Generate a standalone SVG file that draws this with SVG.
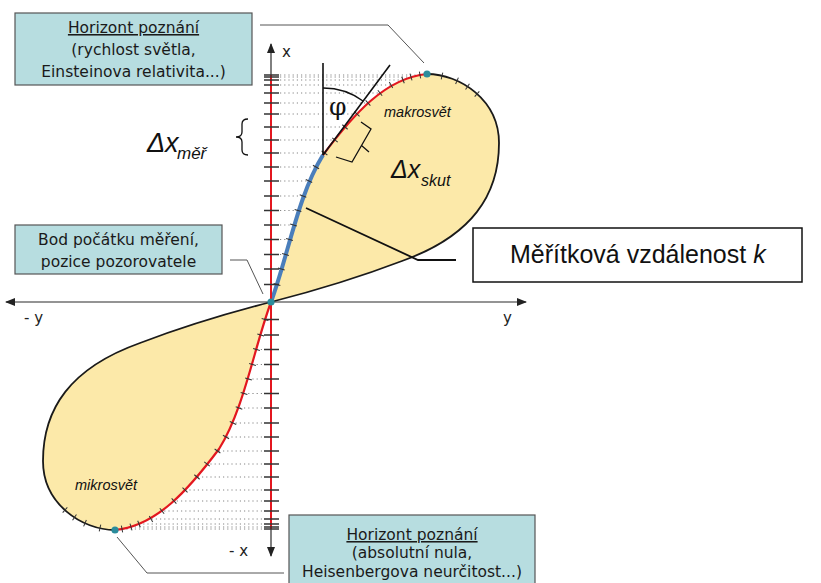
<svg xmlns="http://www.w3.org/2000/svg" xmlns:xlink="http://www.w3.org/1999/xlink" width="821" height="583" viewBox="0 0 821 583">
<style>
.box{fill:#b7dde0;stroke:#555;stroke-width:1.2}
.bt{font-family:"DejaVu Sans",sans-serif;font-size:15.5px;fill:#1a1a1a;text-anchor:middle}
.lead{fill:none;stroke:#555;stroke-width:1}
.dots{fill:none;stroke:#858585;stroke-width:1;stroke-dasharray:1.2 3}
.ax{fill:none;stroke:#2a2a2a;stroke-width:1.2}
.ln{fill:none;stroke:#111;stroke-width:1.6}
.lab{font-family:"DejaVu Sans",sans-serif;font-size:15px;fill:#222}
.it{font-family:"Liberation Sans",sans-serif;font-style:italic;fill:#111}
.tk{fill:none;stroke:none;marker-mid:url(#ctick)}
.dotc{fill:#2b8c9c}
</style>
<defs>
<marker id="arr" viewBox="0 0 10 8" refX="9" refY="4" markerWidth="10" markerHeight="8" markerUnits="userSpaceOnUse" orient="auto-start-reverse"><path d="M0,0 L10,4 L0,8 Z" fill="#222"/></marker>
<marker id="ctick" viewBox="-4 -4 8 8" refX="0" refY="0" markerWidth="8" markerHeight="8" markerUnits="userSpaceOnUse" orient="auto" overflow="visible"><path d="M0,-3.5 L0,3.5" stroke="#333" stroke-width="1"/></marker>
<g id="lobeBase">
<path d="M271,302 C288,256 298,195 323,155 C353,115 385,78 427,74 C460,74 499,100 499,143 C499,195 472,236 402,261 C360,277 310,292 271,302 Z" fill="#fce9a9"/>
<path class="dots" d="M280,254.5 H285.5 M280,239.5 H289.5 M280,225 H293.5 M280,210.5 H298 M280,196 H303 M280,181 H309 M280,167 H316 M280,153 H324.5 M280,140 H335 M280,127 H345 M280,114 H357 M280,103 H368 M280,93 H380 M280,85 H391 M280,80 H403 M280,77 H411 M280,75 H420"/>
<path d="M427,74 C460,74 499,100 499,143 C499,195 472,236 402,261 C360,277 310,292 271,302" fill="none" stroke="#1a1a1a" stroke-width="1.8"/>
<path d="M271,302 C288,256 298,195 323,155 C353,115 385,78 427,74" fill="none" stroke="#e3171f" stroke-width="2.2"/>
</g>
<g id="lobeTicks">
<polyline class="tk" points="271,302 277,284.5 281.3,269 285.5,254.5 289.5,239.5 293.5,225 298,210.5 303,196 309,181 316,167 324.5,153 335,140 345,127 357,114 368,103 380,93 391,85 403,80 411,77 420,75 427,74"/>
<polyline class="tk" points="427,74 442,76 457,80.8 467.5,86.6 477,94 483,100"/>
</g>
</defs>

<g id="lobe-upper">
<use xlink:href="#lobeBase" href="#lobeBase"/>
<path d="M271,302 C288,256 298,195 323,155" fill="none" stroke="#4a7ebb" stroke-width="4"/>
<use xlink:href="#lobeTicks" href="#lobeTicks"/>
</g>
<g id="lobe-lower" transform="rotate(180 271 302)">
<use xlink:href="#lobeBase" href="#lobeBase"/>
<use xlink:href="#lobeTicks" href="#lobeTicks"/>
</g>

<g id="angle">
<path class="ln" d="M323,155 V63 M323,155 L390,65"/>
<path d="M323,88 A67,67 0 0 1 363,101" fill="none" stroke="#111" stroke-width="1.3"/>
<text x="329" y="115" style="font-family:'DejaVu Serif',serif;font-size:25px;fill:#111">φ</text>
<path d="M361,122 L371,129 L352,162 L336,157 M361.5,145.5 L369,152" fill="none" stroke="#111" stroke-width="1.3"/>
</g>

<g id="axes">
<path class="ax" d="M271,556 L271,44" marker-start="url(#arr)" marker-end="url(#arr)"/>
<path class="ax" d="M6,302 L526,302" marker-start="url(#arr)" marker-end="url(#arr)"/>
<path d="M271,75 V529" stroke="#e3171f" stroke-width="2" fill="none"/>
<path stroke="#333" stroke-width="1.5" fill="none" d="M264,75h15 M264,77h15 M264,80h15 M264,85h15 M264,93h15 M264,103h15 M264,114h15 M264,127h15 M264,140h15 M264,153h15 M264,167h15 M264,181h15 M264,196h15 M264,210.5h15 M264,225h15 M264,239.5h15 M264,254.5h15 M264,269h15 M264,284.5h15 M264,319.5h15 M264,335h15 M264,349.5h15 M264,364.5h15 M264,379h15 M264,393.5h15 M264,408h15 M264,423h15 M264,437h15 M264,451h15 M264,464h15 M264,477h15 M264,490h15 M264,501h15 M264,511h15 M264,519h15 M264,524h15 M264,527h15 M264,529h15"/>
<circle class="dotc" cx="271" cy="302" r="3.6"/>
<circle class="dotc" cx="427" cy="74" r="3.6"/>
<circle class="dotc" cx="115" cy="530" r="3.6"/>
<text class="lab" x="282" y="57">x</text>
<text class="lab" x="503" y="323">y</text>
<text class="lab" x="24" y="323">- y</text>
<text class="lab" x="229" y="556">- x</text>
</g>

<g id="labels">
<text class="it" x="147" y="152" font-size="27">Δx</text>
<text class="it" x="177" y="159" font-size="17">měř</text>
<path d="M248,119 Q242,119 242,124 L242,132 Q242,137 236,137 Q242,137 242,142 L242,150 Q242,155 248,155" fill="none" stroke="#111" stroke-width="1.3"/>
<text class="it" x="391" y="178" font-size="25">Δx</text>
<text class="it" x="421" y="186" font-size="16">skut</text>
<text class="it" x="384" y="117" font-size="14.5">makrosvět</text>
<text class="it" x="75" y="490" font-size="14.5">mikrosvět</text>
</g>

<g id="connectors">
<polyline class="lead" points="260,25 388,25 424,63"/>
<polyline class="lead" points="230,260 247,260 263,294"/>
<polyline points="306,208 418,260 456,260" fill="none" stroke="#111" stroke-width="1.8"/>
<polyline class="lead" points="117,537 147,573 284,573"/>
</g>

<g id="node-horizon-top">
<rect class="box" x="15" y="13" width="237" height="72"/>
<text class="bt" x="133.5" y="33" text-decoration="underline">Horizont poznání</text>
<text class="bt" x="133.5" y="55">(rychlost světla,</text>
<text class="bt" x="133.5" y="77">Einsteinova relativita...)</text>
</g>

<g id="node-origin">
<rect class="box" x="15" y="225" width="207" height="49"/>
<text class="bt" x="118.5" y="245">Bod počátku měření,</text>
<text class="bt" x="118.5" y="267">pozice pozorovatele</text>
</g>

<g id="node-scale">
<rect x="473" y="228" width="329" height="54" fill="#fff" stroke="#111" stroke-width="1.5"/>
<text x="510" y="263" style="font-family:'Liberation Sans',sans-serif;font-size:25px;fill:#111">Měřítková vzdálenost <tspan font-style="italic">k</tspan></text>
</g>

<g id="node-horizon-bottom">
<rect class="box" x="289" y="515" width="246" height="80"/>
<text class="bt" x="412" y="540" text-decoration="underline">Horizont poznání</text>
<text class="bt" x="412" y="558">(absolutní nula,</text>
<text class="bt" x="412" y="577">Heisenbergova neurčitost...)</text>
</g>
</svg>
